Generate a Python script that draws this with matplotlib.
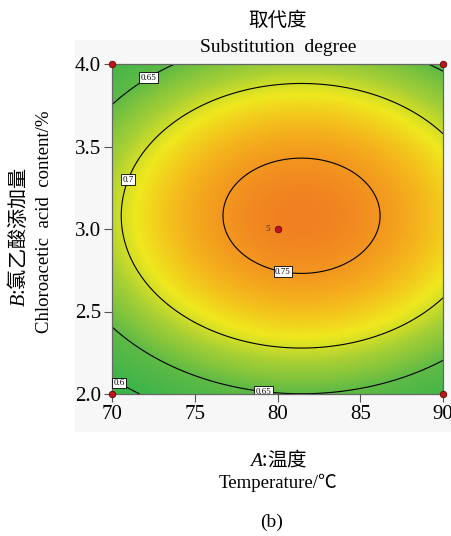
import numpy as np
import matplotlib
matplotlib.use("Agg")
import matplotlib.pyplot as plt
from matplotlib.colors import LinearSegmentedColormap, Normalize
from matplotlib.patches import Rectangle

# Factor ranges
temperature_range = [70, 90]          # A: temperature / degC
content_range = [2.0, 4.0]            # B: chloroacetic acid content / %

# Quadratic response-surface model in coded units (a = (T-80)/10, b = (C-3)/1)
coef_intercept = 0.760
coef_A = 0.0151
coef_B = 0.0154
coef_AB = 0.0
coef_AA = -0.052
coef_BB = -0.096

# Design points (corner + centre runs)
design_temp = [70, 70, 90, 90, 80]
design_content = [2.0, 4.0, 2.0, 4.0, 3.0]
design_labels = ["", "", "", "", "5"]

contour_levels = [0.60, 0.65, 0.70, 0.75]
x_ticks = [70, 75, 80, 85, 90]
y_ticks = [2.0, 2.5, 3.0, 3.5, 4.0]

SERIF = ["Liberation Serif", "Noto Sans CJK SC"]
CJK = ["Noto Sans CJK SC", "Liberation Serif"]

plt.rcParams["mathtext.fontset"] = "custom"
plt.rcParams["mathtext.it"] = "Liberation Serif:italic"
plt.rcParams["mathtext.rm"] = "Liberation Serif"


def response(t, c):
    a = (t - 80.0) / 10.0
    b = (c - 3.0) / 1.0
    return (coef_intercept + coef_A * a + coef_B * b + coef_AB * a * b
            + coef_AA * a ** 2 + coef_BB * b ** 2)


W, H = 451, 536
fig = plt.figure(figsize=(W / 100, H / 100), dpi=100)
fig.patch.set_facecolor("white")

# light panel behind the plot
bg = fig.add_axes([75 / W, 1 - 432 / H, (451 - 75) / W, (432 - 40) / H], zorder=-10)
bg.set_axis_off()
bg.add_patch(Rectangle((0, 0), 1, 1, transform=bg.transAxes, facecolor="#f7f7f7",
                       edgecolor="none"))

ax = fig.add_axes([112 / W, 1 - 394 / H, 331 / W, 330 / H], zorder=1)

t = np.linspace(temperature_range[0], temperature_range[1], 400)
c = np.linspace(content_range[0], content_range[1], 400)
T, C = np.meshgrid(t, c)
Z = response(T, C)

vmin, vmax = 0.60, 0.765
stops = [(0.600, "#3cb44a"), (0.650, "#5fba45"), (0.685, "#a6cf35"),
         (0.710, "#efe81e"), (0.735, "#f5b41c"), (0.765, "#f07a22")]
cmap = LinearSegmentedColormap.from_list(
    "surface", [((v - vmin) / (vmax - vmin), col) for v, col in stops])

ax.imshow(Z, extent=[t[0], t[-1], c[0], c[-1]], origin="lower", aspect="auto",
          cmap=cmap, norm=Normalize(vmin, vmax), interpolation="bilinear", zorder=1)

cs = ax.contour(T, C, Z, levels=contour_levels, colors="black", linewidths=0.8, zorder=2)
label_pos = [(72.2, 3.92), (70.7, 3.31), (80.4, 2.78), (79.2, 2.06), (70.5, 2.08)]
labels = ax.clabel(cs, manual=label_pos, inline=False, fontsize=6.5,
                   fmt=lambda v: f"{v:g}")
for lb in labels:
    lb.set_rotation(0)
    lb.set_fontfamily("Liberation Serif")
    lb.set_bbox(dict(boxstyle="square,pad=0.15", facecolor="white",
                     edgecolor="black", linewidth=0.6))
    lb.set_zorder(4)

ax.scatter(design_temp, design_content, s=22, color="#c0141a", edgecolor="#5a0a0a",
           linewidth=0.6, zorder=5, clip_on=False)
for x, y, s in zip(design_temp, design_content, design_labels):
    if s:
        ax.text(x - 0.6, y, s, fontsize=6.5, family="Liberation Serif", color="#333333",
                ha="center", va="center", zorder=5)

ax.set_xlim(temperature_range)
ax.set_ylim(content_range)
ax.set_xticks(x_ticks)
ax.set_yticks(y_ticks)
ax.set_xticklabels([f"{v:d}" for v in x_ticks], family=SERIF, fontsize=15)
ax.set_yticklabels([f"{v:.1f}" for v in y_ticks], family=SERIF, fontsize=15)
ax.tick_params(direction="out", length=6, width=0.8, color="#555555", pad=2)
for sp in ax.spines.values():
    sp.set_color("#666666")
    sp.set_linewidth(0.9)

# titles
fig.text(278 / W, 1 - 20 / H, "取代度", family=CJK, fontsize=14,
         ha="center", va="center")
fig.text(278 / W, 1 - 48 / H, "Substitution  degree", family=SERIF, fontsize=14,
         ha="center", va="center")

# x label
fig.text(278 / W, 1 - 460 / H, r"$A$:温度", family=CJK, fontsize=14,
         ha="center", va="center")
fig.text(278 / W, 1 - 483 / H, "Temperature/℃", family=SERIF, fontsize=13.5,
         ha="center", va="center")

# y label
fig.text(18 / W, 1 - 237 / H, r"$B$:氯乙酸添加量", family=CJK, fontsize=14.5,
         ha="center", va="center", rotation=90)
fig.text(45 / W, 1 - 222 / H, "Chloroacetic  acid  content/%", family=SERIF,
         fontsize=13.5, ha="center", va="center", rotation=90)

fig.text(272 / W, 1 - 522 / H, "(b)", family=SERIF, fontsize=14,
         ha="center", va="center")

fig.savefig("out.png", dpi=100, facecolor="white")
